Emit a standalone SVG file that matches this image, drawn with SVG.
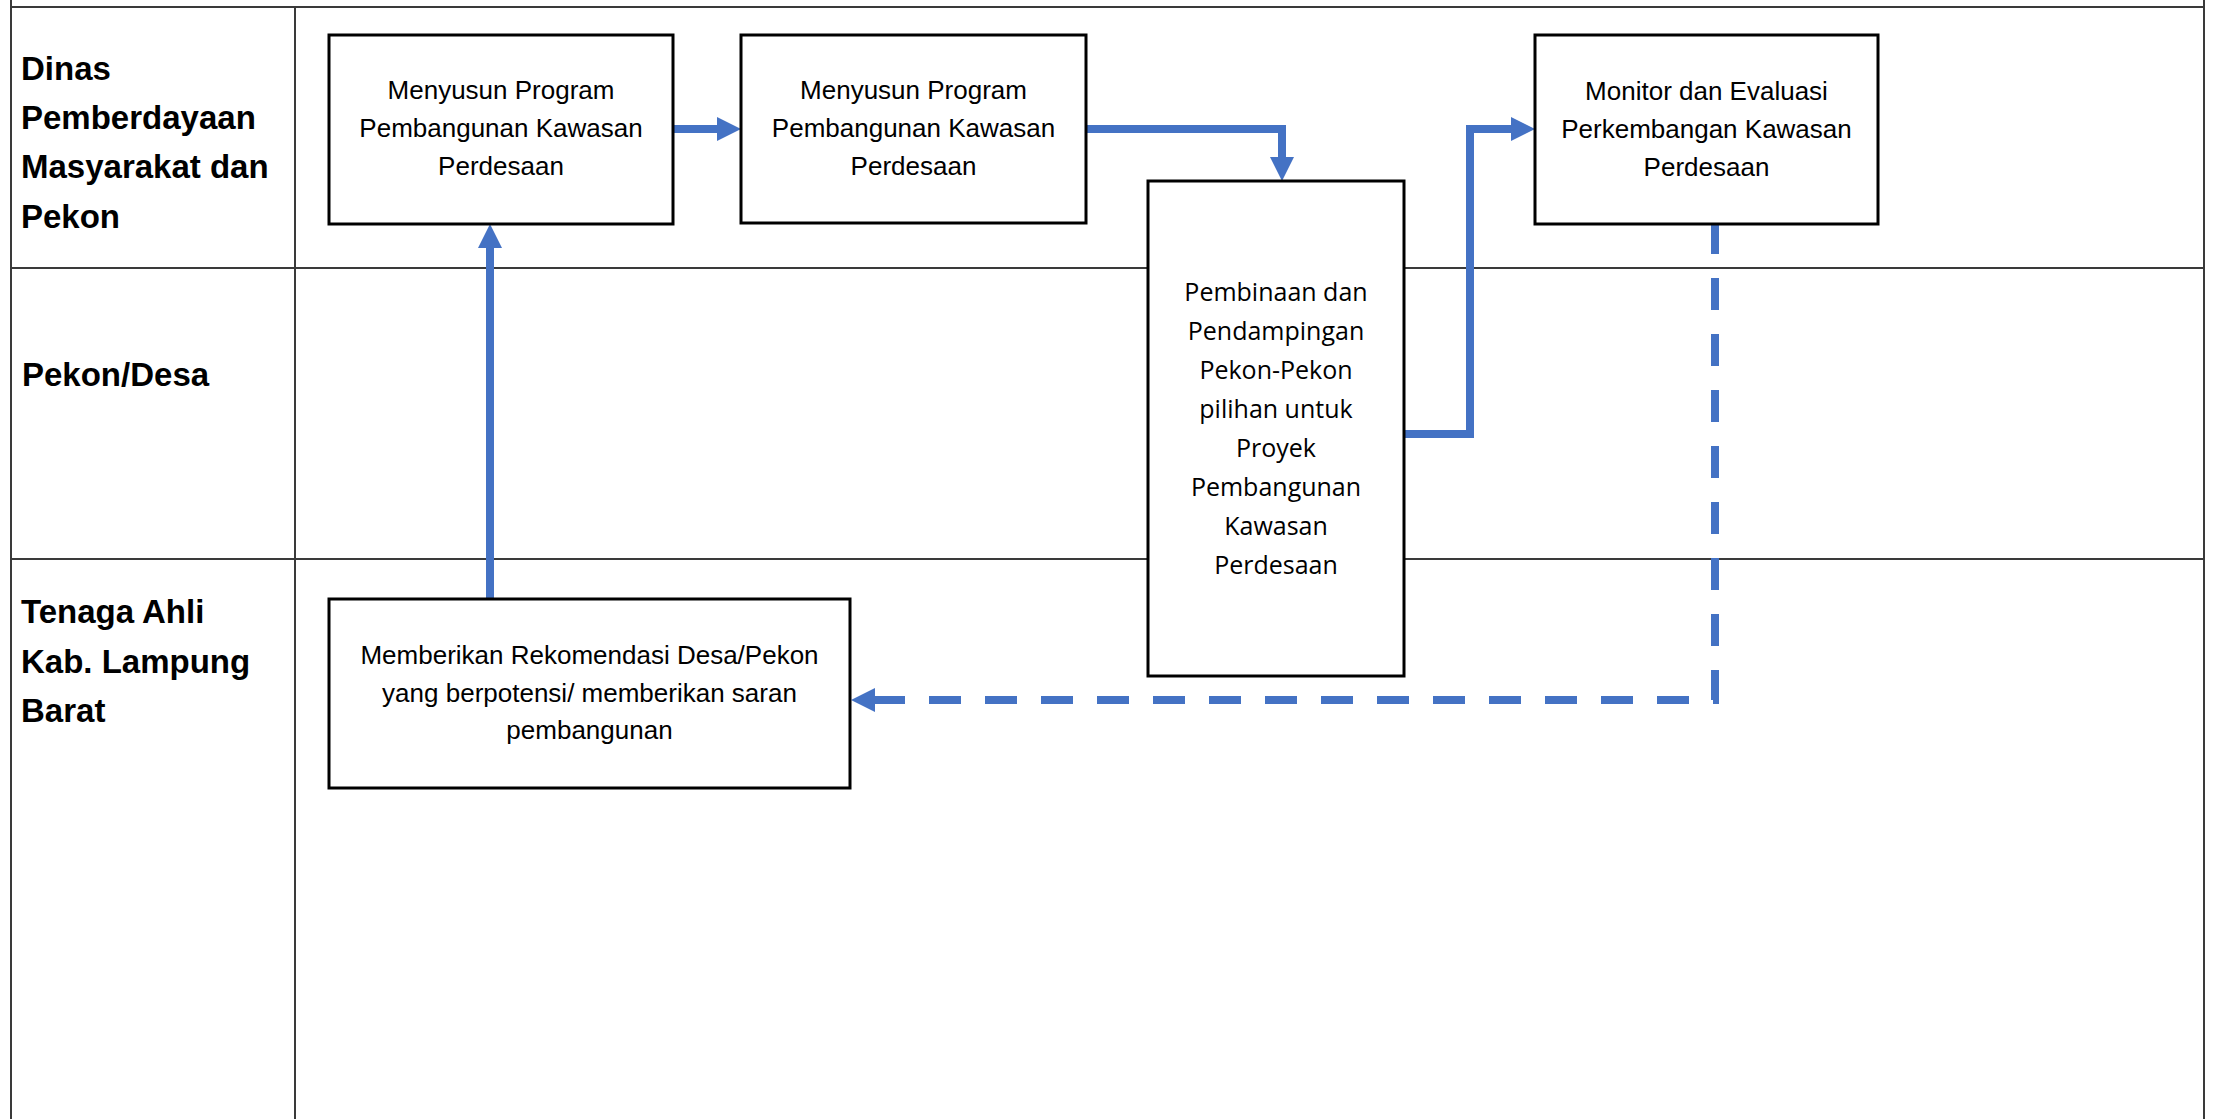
<svg xmlns="http://www.w3.org/2000/svg" width="2213" height="1119" viewBox="0 0 2213 1119">
<style>
.grid{stroke:#3a3a3a;stroke-width:2;fill:none}
.box{fill:#ffffff;stroke:#000000;stroke-width:3}
.lane{font-family:"Liberation Sans",Arial,sans-serif;font-weight:bold;font-size:33px;fill:#000}
.t{font-family:"Liberation Sans",Arial,sans-serif;font-size:26px;fill:#000;text-anchor:middle}
.t2{font-family:"Open Sans","Noto Sans",sans-serif;font-size:25px;fill:#000;text-anchor:middle}
.con{fill:none;stroke:#4472C4;stroke-width:8;stroke-linejoin:miter;stroke-linecap:butt}
.dash{stroke-dasharray:32 24}
</style>
<defs>
<marker id="ah" viewBox="0 0 10 10" refX="0" refY="5" markerWidth="3" markerHeight="3" orient="auto" markerUnits="strokeWidth">
<path d="M0,0 L10,5 L0,10 z" fill="#4472C4"/>
</marker>
</defs>
<rect width="2213" height="1119" fill="#ffffff"/>
<g id="grid">
<line class="grid" x1="11" y1="7" x2="2204" y2="7"/>
<line class="grid" x1="11" y1="268" x2="2204" y2="268"/>
<line class="grid" x1="11" y1="559" x2="2204" y2="559"/>
<line class="grid" x1="11" y1="0" x2="11" y2="1119"/>
<line class="grid" x1="295" y1="7" x2="295" y2="1119"/>
<line class="grid" x1="2204" y1="0" x2="2204" y2="1119"/>
</g>
<g id="lanes">
<text class="lane" x="21"><tspan x="21" y="80">Dinas</tspan><tspan x="21" y="129">Pemberdayaan</tspan><tspan x="21" y="178">Masyarakat dan</tspan><tspan x="21" y="228">Pekon</tspan></text>
<text class="lane" x="22" y="386">Pekon/Desa</text>
<text class="lane" x="21"><tspan x="21" y="623">Tenaga Ahli</tspan><tspan x="21" y="673">Kab. Lampung</tspan><tspan x="21" y="722">Barat</tspan></text>
</g>
<g id="connectors">
<path class="con" d="M490,600 L490,248" marker-end="url(#ah)"/>
<path class="con" d="M673,129 L717,129" marker-end="url(#ah)"/>
<path class="con" d="M1086,129 L1282,129 L1282,157" marker-end="url(#ah)"/>
<path class="con" d="M1404,434 L1470,434 L1470,129 L1511,129" marker-end="url(#ah)"/>
<path class="con dash" d="M1715,222 L1715,700 L875,700" marker-end="url(#ah)"/>
</g>
<g id="node-a">
<rect class="box" x="329" y="35" width="344" height="189"/>
<text class="t"><tspan x="501" y="99">Menyusun Program</tspan><tspan x="501" y="137">Pembangunan Kawasan</tspan><tspan x="501" y="175">Perdesaan</tspan></text>
</g>
<g id="node-b">
<rect class="box" x="741" y="35" width="345" height="188"/>
<text class="t"><tspan x="913.5" y="99">Menyusun Program</tspan><tspan x="913.5" y="137">Pembangunan Kawasan</tspan><tspan x="913.5" y="175">Perdesaan</tspan></text>
</g>
<g id="node-c">
<rect class="box" x="1148" y="181" width="256" height="495"/>
<text class="t2"><tspan x="1276" y="301">Pembinaan dan</tspan><tspan x="1276" y="340">Pendampingan</tspan><tspan x="1276" y="379">Pekon-Pekon</tspan><tspan x="1276" y="418">pilihan untuk</tspan><tspan x="1276" y="457">Proyek</tspan><tspan x="1276" y="496">Pembangunan</tspan><tspan x="1276" y="535">Kawasan</tspan><tspan x="1276" y="574">Perdesaan</tspan></text>
</g>
<g id="node-d">
<rect class="box" x="1535" y="35" width="343" height="189"/>
<text class="t"><tspan x="1706.5" y="100">Monitor dan Evaluasi</tspan><tspan x="1706.5" y="138">Perkembangan Kawasan</tspan><tspan x="1706.5" y="176">Perdesaan</tspan></text>
</g>
<g id="node-e">
<rect class="box" x="329" y="599" width="521" height="189"/>
<text class="t"><tspan x="589.5" y="664">Memberikan Rekomendasi Desa/Pekon</tspan><tspan x="589.5" y="702">yang berpotensi/ memberikan saran</tspan><tspan x="589.5" y="739">pembangunan</tspan></text>
</g>
</svg>
